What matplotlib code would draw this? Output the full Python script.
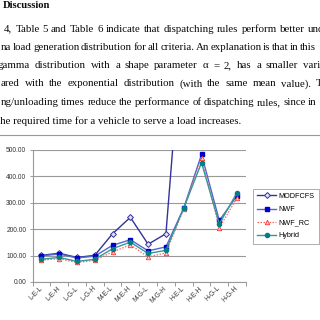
import numpy as np
import matplotlib
matplotlib.use("Agg")
import matplotlib.pyplot as plt
from matplotlib.lines import Line2D
from matplotlib.transforms import IdentityTransform

categories = ["L-E-L", "L-E-H", "L-G-L", "L-G-H", "M-E-L", "M-E-H",
              "M-G-L", "M-G-H", "H-E-L", "H-E-H", "H-G-L", "H-G-H"]
modfcfs = [101, 109, 93, 101, 183, 245, 143, 183, 1030, 1600, 1150, 1400]
nwf     = [99, 106, 91, 98, 139, 160, 118, 133, 280, 483, 233, 327]
nwf_rc  = [83, 88, 74, 82, 114, 141, 95, 110, 276, 470, 205, 320]
hybrid  = [86, 93, 78, 86, 126, 151, 108, 120, 280, 452, 220, 339]
yticks = [0, 100, 200, 300, 400, 500]

para_lines = [
    ("4, Table 5 and Table 6 indicate that dispatching rules perform better under", 4, 308, 31.5),
    ("na load generation distribution for all criteria. An explanation is that in this", 1, 300, 50),
    ("gamma distribution with a shape parameter \u03b1 = 2, has a smaller variance", -2, 303, 68.5),
    ("ared with the exponential distribution (with the same mean value). The", 1, 316, 86.5),
    ("ng/unloading times reduce the performance of dispatching rules, since in", 1, 308, 105),
]
last_line = "the required time for a vehicle to serve a load increases."

W = H = 320
fig = plt.figure(figsize=(3.2, 3.2), dpi=100)
fig.patch.set_facecolor("white")
renderer = fig.canvas.get_renderer()
serif = "Liberation Serif"
fs_text = 7.8
txt_color = "#0a0a0a"

def justify(text, x0, xlast, ytop, **kw):
    words = text.split(" ")
    arts = [fig.text(0, 0, w, transform=IdentityTransform(), va="baseline",
                     ha="left", **kw) for w in words]
    widths = [a.get_window_extent(renderer).width for a in arts]
    n = len(words)
    gap = (xlast - x0 - sum(widths[:-1])) / (n - 1) if n > 1 else 0
    x = x0
    for a, w in zip(arts, widths):
        a.set_position((x, H - ytop))
        x += w + gap

fig.text(3, H - 8.5, "Discussion", transform=IdentityTransform(), va="baseline",
         ha="left", family=serif, fontsize=7.6, fontweight="bold", color=txt_color)
for txt, x0, xl, yb in para_lines:
    justify(txt, x0, xl, yb, family=serif, fontsize=fs_text, color=txt_color)
fig.text(-3, H - 124, last_line, transform=IdentityTransform(), va="baseline",
         ha="left", family=serif, fontsize=fs_text, color=txt_color)

fig.add_artist(Line2D([0, 1], [1 - 135 / H] * 2, transform=fig.transFigure,
                      color="#999999", lw=0.8))

ax = fig.add_axes([32.5 / W, 1 - 282 / H, 213.5 / W, 132 / H])
x = np.arange(len(categories))
sans = "Liberation Sans"

ax.plot(x, modfcfs, color="#333399", lw=1.0, marker="D", ms=3,
        mfc="#e0e0f8", mec="#333399", mew=0.7, label="MODFCFS")
ax.plot(x, nwf, color="#5566cc", lw=1.0, marker="s", ms=3.2,
        mfc="#0000cc", mec="#0000cc", label="NWF")
ax.plot(x, nwf_rc, color="#ff6666", lw=0.9, ls=(0, (1.2, 1.2)), marker="^", ms=3.2,
        mfc="#ffcccc", mec="#ff3333", mew=0.6, label="NWF_RC")
ax.plot(x, hybrid, color="#339999", lw=1.0, marker="o", ms=3,
        mfc="#008080", mec="#008080", label="Hybrid")

ax.set_xlim(-0.5, len(categories) - 0.5)
ax.set_ylim(0, 500)
ax.set_yticks(yticks)
ax.set_yticklabels([f"{v:.2f}" for v in yticks], family=sans, fontsize=4.8,
                   color="#333333")
ax.yaxis.grid(True, color="#999999", lw=0.8)
ax.set_axisbelow(True)
ax.set_xticks(np.arange(-0.5, len(categories)), labels=[""] * (len(categories) + 1))
ax.set_xticks(x, labels=categories, minor=True)
ax.tick_params(axis="x", which="major", length=3, width=0.7, color="#999999")
ax.tick_params(axis="x", which="minor", length=0, pad=4)
ax.tick_params(axis="y", length=2, width=0.7, color="#999999", pad=2.5)
for lab in ax.get_xticklabels(minor=True):
    lab.set_rotation(45)
    lab.set_ha("right")
    lab.set_va("center")
    lab.set_rotation_mode("anchor")
    lab.set_family(sans)
    lab.set_fontsize(4.8)
    lab.set_color("#333333")
for s in ["top", "right"]:
    ax.spines[s].set_visible(False)
for s in ["left", "bottom"]:
    ax.spines[s].set_color("#999999")
    ax.spines[s].set_linewidth(0.8)

leg = ax.legend(loc="upper left", bbox_to_anchor=(253 / W, 1 - 188.5 / H),
                bbox_transform=fig.transFigure, borderaxespad=0, fancybox=False,
                prop={"family": sans, "size": 5.2}, handlelength=2.6,
                handletextpad=0.3, labelspacing=0.85, borderpad=0.6, numpoints=1)
leg.get_frame().set_edgecolor("#888888")
leg.get_frame().set_linewidth(0.6)

fig.savefig("out.png", dpi=100)
